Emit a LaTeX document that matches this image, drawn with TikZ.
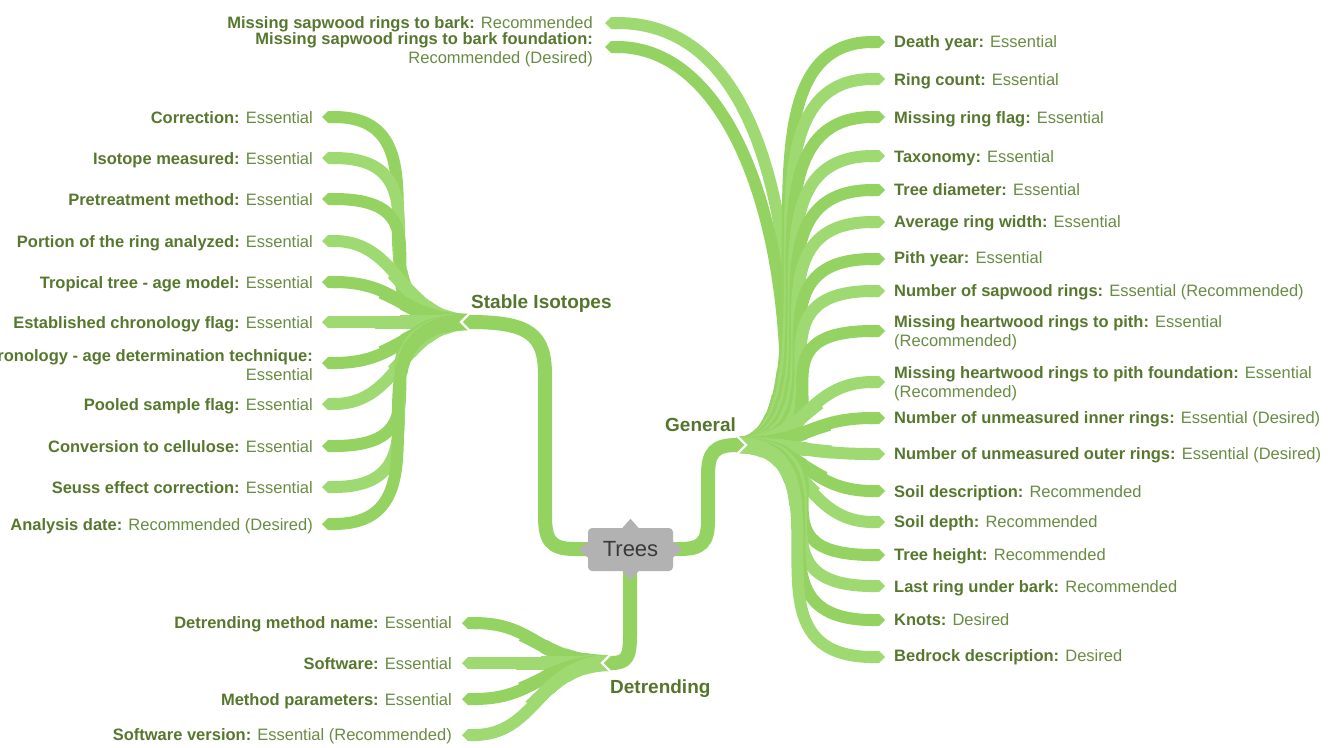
\documentclass[tikz,border=0pt]{standalone}
\usepackage{fontspec}
\setmainfont{Liberation Sans}
\usetikzlibrary{arrows.meta}
\definecolor{leafA}{RGB}{148,210,98}
\definecolor{leafB}{RGB}{159,217,114}
\definecolor{keytext}{RGB}{86,120,46}
\definecolor{valtext}{RGB}{104,140,66}
\definecolor{hubtext}{RGB}{84,118,44}
\definecolor{rootfill}{RGB}{178,178,178}
\definecolor{roottext}{RGB}{58,58,58}
\newcommand\kvpair[2]{{\bfseries\color{keytext}#1} #2}
% one leaf branch of a fan, thicker near its hub:
% #1 hub coordinate, #2 hub y, #3 leaf coordinate, #4 leaf y, #5 x of the steep part, #6 colour
\newcommand\fanbranch[6]{%
  \pgfmathsetmacro\fbad{abs(#4-#2)}%
  \pgfmathtruncatemacro\fbbig{ifthenelse(\fbad>90,1,0)}%
  \ifnum\fbbig=1
    \pgfmathsetmacro\fbym{(#4+#2)/2}%
    \pgfmathsetmacro\fbqa{(#2+\fbym)/2}%
    \pgfmathsetmacro\fbqb{(\fbym+#4)/2}%
    \foreach \fbst in {taperA,taperB,taperC,taperD,twig}
      \draw[\fbst=#6] (#1) .. controls (#5,#2) and (#5,\fbqa) .. (#5,\fbym)
        .. controls (#5,\fbqb) and (#5,#4) .. (#3);
  \else
    \foreach \fbst in {taperA,taperB,taperC,taperD,twig}
      \draw[\fbst=#6] (#1) .. controls (#5,#2) and (#5,#4) .. (#3);
  \fi}
\begin{document}
\begin{tikzpicture}[x=1pt,y=-1pt,
  twig/.style={draw=#1, line width=12pt, -{Triangle Cap[]}},
  taperA/.style={draw=#1, line width=16pt, dash pattern=on 28pt off 3000pt},
  taperB/.style={draw=#1, line width=15pt, dash pattern=on 48pt off 3000pt},
  taperC/.style={draw=#1, line width=14pt, dash pattern=on 70pt off 3000pt},
  taperD/.style={draw=#1, line width=13pt, dash pattern=on 95pt off 3000pt},
  trunk/.style={draw=leafA, line width=14pt},
  trunktip/.style={fill=leafA},
  notch/.style={draw=white, line width=2.5pt, line join=miter},
  leaflabel/.style={font=\fontsize{16.5}{19}\selectfont, text=valtext, inner sep=0pt},
  hublabel/.style={font=\fontsize{19}{22}\selectfont\bfseries, text=hubtext, inner sep=0pt, anchor=base west},
  rootbox/.style={fill=rootfill, rounded corners=4pt, minimum width=85pt, minimum height=43pt,
    inner sep=0pt, text=roottext, font=\fontsize{22}{24}\selectfont},
]
\useasboundingbox (0,0) rectangle (1338,747);

% ---------- hub points ----------
\coordinate (si) at (470,322);   % Stable Isotopes
\coordinate (ge) at (737,445);   % General
\coordinate (de) at (611,663);   % Detrending

% ---------- General: two leaves sweeping back over the top ----------
\coordinate (b1) at (605,23);
\coordinate (b2) at (605,47);
\coordinate (bend1) at (792,360);
\coordinate (bend2) at (786,372);
\foreach \st in {taperA,taperB,taperC,taperD,twig}{
  \draw[\st=leafB] (ge) .. controls (790,443) and (794,400) .. (bend1)
    .. controls (787,170) and (740,23) .. (b1);
  \draw[\st=leafA] (ge) .. controls (784,443) and (788,405) .. (bend2)
    .. controls (781,190) and (718,47) .. (b2);
}

% ---------- Stable Isotopes leaves (branch to the left) ----------
\foreach \n/\y/\c in {1/117/leafA,2/158/leafB,3/199/leafA,4/241/leafB,5/282/leafA,6/322/leafB,
                      7/363/leafA,8/404/leafB,9/446/leafA,10/487/leafB,11/524/leafA}{
  \coordinate (s\n) at (322,\y);
  \pgfmathsetmacro\xv{404-0.03*abs(\y-322)}
  \fanbranch{si}{322}{s\n}{\y}{\xv}{\c}
}

% ---------- General leaves (branch to the right) ----------
\foreach \n/\y/\c in {1/42/leafA,2/79/leafB,3/117/leafA,4/156/leafB,5/190/leafA,6/222/leafB,
                      7/259/leafA,8/291/leafB,9/331/leafA,10/382/leafB,11/418/leafA,12/454/leafB,
                      13/491/leafA,14/522/leafB,15/555/leafA,16/586/leafB,17/620/leafA,18/657/leafB}{
  \coordinate (g\n) at (885,\y);
  \pgfmathsetmacro\xv{808-0.05*abs(\y-445)}
  \fanbranch{ge}{445}{g\n}{\y}{\xv}{\c}
}

% ---------- Detrending leaves (branch to the left) ----------
\foreach \n/\y/\c in {1/623/leafA,2/663/leafB,3/699/leafA,4/735/leafB}{
  \coordinate (d\n) at (462,\y);
  \fanbranch{de}{663}{d\n}{\y}{538}{\c}
}

% ---------- trunks from the root ----------
\coordinate (rl) at (590,549);
\coordinate (rr) at (670,549);
\coordinate (rb) at (630,570);

% to Stable Isotopes, ending in a point that meets the fan
\draw[trunk] (rl) -- (575,549) .. controls (550,549) and (545,540) .. (545,515)
  -- (545,375) .. controls (545,335) and (530,322) .. (si);
\draw[notch] (470,313.2) -- (461.2,322) -- (470,330.8);
\fill[trunktip] (471,315) -- (470,315) -- (463,322) -- (470,329) -- (471,329) -- cycle;

% to General
\draw[trunk] (rr) -- (680,549) .. controls (702,549) and (708,542) .. (708,520)
  -- (708,475) .. controls (708,452) and (715,445) .. (ge);
\draw[notch] (737,436.2) -- (745.8,445) -- (737,453.8);
\fill[trunktip] (736,438) -- (737,438) -- (744,445) -- (737,452) -- (736,452) -- cycle;

% to Detrending
\draw[trunk] (rb) -- (630,635) .. controls (630,657) and (627,663) .. (de);
\draw[notch] (611,654.2) -- (602.2,663) -- (611,671.8);
\fill[trunktip] (612,656) -- (611,656) -- (604,663) -- (611,670) -- (612,670) -- cycle;

% ---------- root ----------
\node[rootbox] (root) at (630.5,549.5) {Trees};
\fill[rootfill] (root.north) ++(-8,0) -- ++(8,-9) -- ++(8,9) -- cycle;
\fill[rootfill] (root.south) ++(-8,0) -- ++(8,9) -- ++(8,-9) -- cycle;
\fill[rootfill] (root.west) ++(0,-8) -- ++(-9,8) -- ++(9,8) -- cycle;
\fill[rootfill] (root.east) ++(0,-8) -- ++(9,8) -- ++(-9,8) -- cycle;

% ---------- hub labels ----------
\node[hublabel] (siL) at (471,308) {Stable Isotopes};
\node[hublabel] (geL) at (665,431) {General};
\node[hublabel] (deL) at (610,693) {Detrending};

% ---------- Stable Isotopes labels ----------
\begin{scope}[every node/.style={leaflabel, anchor=base east}]
\node (sL1) at (313,123) {\kvpair{Correction:}{Essential}};
\node (sL2) at (313,164) {\kvpair{Isotope measured:}{Essential}};
\node (sL3) at (313,205) {\kvpair{Pretreatment method:}{Essential}};
\node (sL4) at (313,247) {\kvpair{Portion of the ring analyzed:}{Essential}};
\node (sL5) at (313,288) {\kvpair{Tropical tree - age model:}{Essential}};
\node (sL6) at (313,328) {\kvpair{Established chronology flag:}{Essential}};
\node[align=right] (sL7) at (313,380) {\kvpair{Established chronology - age determination technique:}{}\\Essential};
\node (sL8) at (313,410) {\kvpair{Pooled sample flag:}{Essential}};
\node (sL9) at (313,452) {\kvpair{Conversion to cellulose:}{Essential}};
\node (sL10) at (313,493) {\kvpair{Seuss effect correction:}{Essential}};
\node (sL11) at (313,530) {\kvpair{Analysis date:}{Recommended (Desired)}};
\end{scope}

% ---------- Detrending labels ----------
\begin{scope}[every node/.style={leaflabel, anchor=base east}]
\node (dL1) at (452,628) {\kvpair{Detrending method name:}{Essential}};
\node (dL2) at (452,669) {\kvpair{Software:}{Essential}};
\node (dL3) at (452,705) {\kvpair{Method parameters:}{Essential}};
\node (dL4) at (452,740) {\kvpair{Software version:}{Essential (Recommended)}};
\end{scope}

% ---------- labels of the two back-swept leaves ----------
\begin{scope}[every node/.style={leaflabel, anchor=base east}]
\node (bL1) at (593,28) {\kvpair{Missing sapwood rings to bark:}{Recommended}};
\node[align=right] (bL2) at (593,63) {\kvpair{Missing sapwood rings to bark foundation:}{}\\Recommended (Desired)};
\end{scope}

% ---------- General labels ----------
\begin{scope}[every node/.style={leaflabel, anchor=base west}]
\node (gL1) at (894,47) {\kvpair{Death year:}{Essential}};
\node (gL2) at (894,85) {\kvpair{Ring count:}{Essential}};
\node (gL3) at (894,123) {\kvpair{Missing ring flag:}{Essential}};
\node (gL4) at (894,162) {\kvpair{Taxonomy:}{Essential}};
\node (gL5) at (894,195) {\kvpair{Tree diameter:}{Essential}};
\node (gL6) at (894,227) {\kvpair{Average ring width:}{Essential}};
\node (gL7) at (894,263) {\kvpair{Pith year:}{Essential}};
\node (gL8) at (894,296) {\kvpair{Number of sapwood rings:}{Essential (Recommended)}};
\node[align=left] (gL9) at (894,346) {\kvpair{Missing heartwood rings to pith:}{Essential}\\(Recommended)};
\node[align=left] (gL10) at (894,397) {\kvpair{Missing heartwood rings to pith foundation:}{Essential}\\(Recommended)};
\node (gL11) at (894,423) {\kvpair{Number of unmeasured inner rings:}{Essential (Desired)}};
\node (gL12) at (894,459) {\kvpair{Number of unmeasured outer rings:}{Essential (Desired)}};
\node (gL13) at (894,497) {\kvpair{Soil description:}{Recommended}};
\node (gL14) at (894,527) {\kvpair{Soil depth:}{Recommended}};
\node (gL15) at (894,560) {\kvpair{Tree height:}{Recommended}};
\node (gL16) at (894,592) {\kvpair{Last ring under bark:}{Recommended}};
\node (gL17) at (894,625) {\kvpair{Knots:}{Desired}};
\node (gL18) at (894,661) {\kvpair{Bedrock description:}{Desired}};
\end{scope}
\end{tikzpicture}
\end{document}
